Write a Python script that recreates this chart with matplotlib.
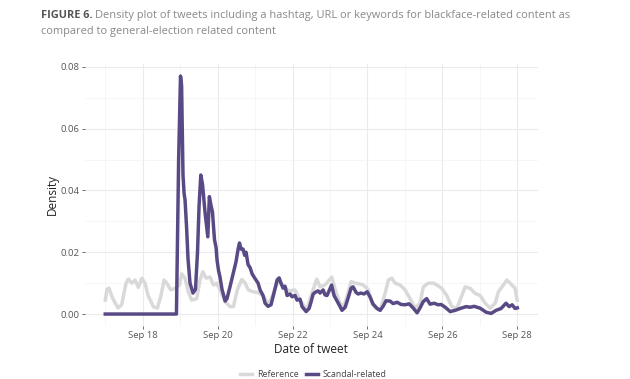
import matplotlib
matplotlib.use("Agg")
import matplotlib.pyplot as plt
import numpy as np
import pandas as pd

# ---- data (hours since 2019-09-17 00:00, density) ----
scandal_hours = [0, 45.6, 47.0, 48.2, 48.9, 49.8, 50.5, 51.1, 52.1, 53.0, 54.3, 56.2, 57.8,
                 59.1, 60.1, 61.2, 62.3, 63.9, 65.7, 66.7, 67.8, 68.7, 69.4, 70.0, 71.0,
                 71.6, 72.6, 73.5, 74.8, 76.8, 78.0, 80.0, 81.9, 83.8, 85.1, 86.0, 87.0,
                 88.3, 89.3, 90.2, 91.5, 92.8, 94.1, 95.3, 96.6, 97.9, 99.2, 101.1, 102.4,
                 104.3, 106.2, 108.2, 110.1, 111.4, 112.6, 113.9, 115.2, 116.5, 118.4,
                 119.7, 121.6, 122.9, 124.8, 126.1, 128.7, 130.6, 131.9, 133.2, 135.1,
                 136.4, 137.6, 139.6, 140.8, 142.1, 143.4, 145.0, 146.6, 149.2, 151.7,
                 153.7, 155.6, 157.5, 158.8, 160.7, 162.0, 163.9, 165.8, 167.8, 169.7,
                 171.6, 174.2, 176.1, 178.0, 179.9, 182.5, 184.4, 187.0, 189.6, 192.1,
                 194.7, 197.2, 199.8, 201.7, 203.7, 205.9, 208.1, 210.7, 213.3, 215.2,
                 217.8, 221.0, 224.2, 227.4, 231.2, 233.8, 236.3, 240.2, 244.0, 247.2,
                 250.4, 253.6, 256.8, 258.8, 260.7, 262.6, 264.0]
scandal_density = [0.0, 0.0, 0.050, 0.077, 0.074, 0.045, 0.039, 0.037, 0.028, 0.018, 0.010,
                   0.0068, 0.008, 0.020, 0.035, 0.045, 0.042, 0.033, 0.025, 0.038, 0.035,
                   0.033, 0.028, 0.024, 0.0215, 0.0175, 0.014, 0.012, 0.008, 0.0042, 0.005,
                   0.009, 0.013, 0.017, 0.021, 0.023, 0.021, 0.021, 0.019, 0.020, 0.016,
                   0.015, 0.013, 0.012, 0.011, 0.010, 0.0078, 0.006, 0.0035, 0.0025, 0.003,
                   0.007, 0.011, 0.0117, 0.010, 0.0084, 0.009, 0.006, 0.0065, 0.0056, 0.006,
                   0.0045, 0.0048, 0.0024, 0.0008, 0.0018, 0.004, 0.0065, 0.0072, 0.0075,
                   0.0068, 0.0078, 0.0062, 0.006, 0.0075, 0.0094, 0.006, 0.0036, 0.0012,
                   0.0022, 0.0052, 0.0084, 0.0088, 0.007, 0.0065, 0.0068, 0.0065, 0.0072,
                   0.0055, 0.0032, 0.0018, 0.0012, 0.0025, 0.0043, 0.0042, 0.0034, 0.0038,
                   0.0031, 0.003, 0.0033, 0.002, 0.0004, 0.002, 0.004, 0.005, 0.0032,
                   0.0035, 0.003, 0.0031, 0.0022, 0.0008, 0.0012, 0.0018, 0.0024, 0.0022,
                   0.0025, 0.0019, 0.0006, 0.0002, 0.0012, 0.0018, 0.0035, 0.0024, 0.003,
                   0.0018, 0.002]

reference_hours = [0, 1.1, 2.4, 4.3, 6.3, 8.2, 10.5, 13.3, 14.8, 17.0, 19.1, 21.2, 23.4,
                   25.5, 27.4, 30.8, 33.4, 35.5, 37.7, 39.4, 42.0, 44.7, 47.5, 49.0, 51.1,
                   53.2, 55.4, 58.6, 60.7, 62.5, 64.6, 67.1, 69.3, 71.4, 73.5, 76.8, 80.0,
                   82.1, 84.6, 87.5, 89.6, 91.7, 94.9, 98.1, 100.9, 103.5, 105.6, 108.2,
                   110.7, 113.3, 117.3, 121.6, 124.8, 129.1, 131.9, 135.5, 137.6, 140.8,
                   145.1, 147.9, 150.4, 153.0, 155.6, 157.5, 160.1, 162.6, 165.4, 168.6,
                   170.8, 173.5, 176.1, 179.3, 181.4, 183.6, 185.7, 188.9, 192.1, 195.3,
                   198.5, 201.7, 203.8, 207.0, 210.3, 212.4, 215.6, 218.8, 222.0, 225.3,
                   228.5, 230.6, 233.8, 237.0, 240.2, 243.4, 246.6, 249.8, 251.9, 255.1,
                   257.3, 259.4, 262.6, 263.9]
reference_density = [0.0045, 0.008, 0.0084, 0.0056, 0.0036, 0.002, 0.003, 0.010, 0.0113,
                     0.010, 0.011, 0.0086, 0.0116, 0.010, 0.006, 0.0024, 0.0019, 0.0056,
                     0.011, 0.010, 0.0078, 0.0083, 0.0094, 0.013, 0.0116, 0.0072, 0.0045,
                     0.005, 0.011, 0.0137, 0.0116, 0.012, 0.0094, 0.010, 0.0078, 0.004,
                     0.0024, 0.0024, 0.0078, 0.0112, 0.010, 0.0078, 0.0072, 0.0069, 0.006,
                     0.004, 0.004, 0.0075, 0.0105, 0.0095, 0.0075, 0.0078, 0.0045, 0.0013,
                     0.006, 0.0113, 0.0088, 0.0094, 0.012, 0.007, 0.0035, 0.0025, 0.007,
                     0.0105, 0.010, 0.0098, 0.0094, 0.0078, 0.0036, 0.0018, 0.0012, 0.0067,
                     0.011, 0.0116, 0.010, 0.0094, 0.0078, 0.005, 0.0019, 0.0036, 0.0088,
                     0.010, 0.010, 0.0094, 0.0083, 0.006, 0.0024, 0.0019, 0.006, 0.0088,
                     0.0083, 0.0067, 0.006, 0.0035, 0.0019, 0.0035, 0.0072, 0.0094, 0.011,
                     0.010, 0.0083, 0.0045]

series_labels = ["Reference", "Scandal-related"]
x_tick_dates = ["2019-09-18", "2019-09-20", "2019-09-22", "2019-09-24", "2019-09-26", "2019-09-28"]
x_minor_dates = ["2019-09-17", "2019-09-19", "2019-09-21", "2019-09-23", "2019-09-25", "2019-09-27"]
y_ticks = [0.00, 0.02, 0.04, 0.06, 0.08]
y_minor = [0.01, 0.03, 0.05, 0.07]

start = pd.Timestamp("2019-09-17")
t_s = start + pd.to_timedelta(scandal_hours, unit="h")
t_r = start + pd.to_timedelta(reference_hours, unit="h")

plt.rcParams['font.family'] = ['Open Sans', 'DejaVu Sans']

fig = plt.figure(figsize=(6.30, 3.79), dpi=100)
ax = fig.add_axes([0.1344, 0.140, 0.7194, 0.691])

c_ref = "#d9d9d9"
c_sc = "#594a86"
ax.plot(t_r, reference_density, color=c_ref, lw=2.5, solid_joinstyle="round", label=series_labels[0], zorder=3)
ax.plot(t_s, scandal_density, color=c_sc, lw=2.5, solid_joinstyle="round", label=series_labels[1], zorder=4)

xmin = start - pd.Timedelta(hours=13.2)
xmax = pd.Timestamp("2019-09-28") + pd.Timedelta(hours=13.2)
ax.set_xlim(xmin, xmax)
ax.set_ylim(-0.00385, 0.0809)

ax.set_xticks(pd.to_datetime(x_tick_dates))
ax.set_xticklabels([pd.Timestamp(d).strftime("%b %d") for d in x_tick_dates])
ax.set_xticks(pd.to_datetime(x_minor_dates), minor=True)
ax.set_yticks(y_ticks)
ax.set_yticklabels([f"{v:.2f}" for v in y_ticks])
ax.set_yticks(y_minor, minor=True)

ax.grid(which="major", color="#ebebeb", lw=0.8, zorder=0)
ax.grid(which="minor", color="#f3f3f3", lw=0.5, zorder=0)
ax.set_axisbelow(True)
for s in ax.spines.values():
    s.set_visible(False)
ax.tick_params(which="major", length=2, width=0.6, color="#555555", labelsize=6.8,
               labelcolor="#555555", pad=2)
ax.tick_params(which="minor", length=0)

ax.set_xlabel("Date of tweet", fontsize=8.5, color="#222222", labelpad=2)
ax.set_ylabel("Density", fontsize=8.5, color="#222222", labelpad=1)

leg = fig.legend(loc="center", bbox_to_anchor=(0.497, 0.013), ncol=2, frameon=False,
                 fontsize=6.3, handlelength=1.4, columnspacing=0.8, handletextpad=0.5,
                 labelcolor="#444444")

fig.text(0.065, 0.958, "FIGURE 6.", fontsize=7.9, fontweight="bold", color="#555555", va="center")
fig.text(0.065 + 0.085, 0.958,
         "Density plot of tweets including a hashtag, URL or keywords for blackface-related content as",
         fontsize=7.9, color="#888888", va="center")
fig.text(0.065, 0.916, "compared to general-election related content", fontsize=7.9,
         color="#888888", va="center")

fig.savefig("out.png", dpi=100, facecolor="white")
